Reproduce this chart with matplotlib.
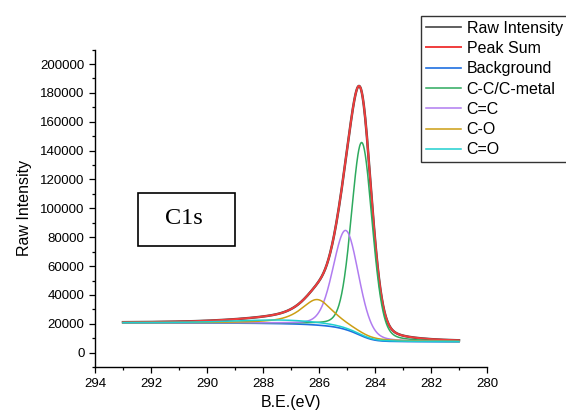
import numpy as np
import matplotlib
matplotlib.use("Agg")
import matplotlib.pyplot as plt
from matplotlib.patches import Rectangle
from matplotlib.ticker import MultipleLocator

plt.rcParams['font.family'] = ['Liberation Sans', 'DejaVu Sans']

# C1s fit components: centre (eV), height above background (counts), FWHM (eV), Lorentzian fraction
component_names = ["C-C/C-metal", "C=C", "C-O", "C=O"]
component_centers = [284.47, 285.04, 286.06, 287.3]
component_heights = [134000, 68700, 17700, 2500]
component_fwhm = [0.88, 1.07, 1.4, 4.0]
component_lorentz = [0.2, 0.2, 0.8, 0.5]
component_colors = ["#2eaa5e", "#b07cf0", "#cc9e14", "#1fcfcf"]

# Shirley background end levels (counts) at the low- and high-BE ends of the scan
bg_low_end = 7500
bg_high_end = 20700
scan_range = (281.0, 293.0)

x_ticks = [294, 292, 290, 288, 286, 284, 282, 280]
y_ticks = [0, 20000, 40000, 60000, 80000, 100000, 120000, 140000, 160000, 180000, 200000]


def pseudo_voigt(x, c, h, w, eta):
    g = np.exp(-4 * np.log(2) * ((x - c) / w) ** 2)
    l = 1.0 / (1.0 + 4 * ((x - c) / w) ** 2)
    return h * ((1 - eta) * g + eta * l)


be = np.linspace(scan_range[0], scan_range[1], 1201)
peaks = [pseudo_voigt(be, c, h, w, e) for c, h, w, e in
         zip(component_centers, component_heights, component_fwhm, component_lorentz)]
total = np.sum(peaks, axis=0)

# Shirley-type step: proportional to the peak area on the low-BE side of each point
cum = np.concatenate([[0], np.cumsum(0.5 * (total[1:] + total[:-1]) * np.diff(be))])
background = bg_low_end + (bg_high_end - bg_low_end) * cum / cum[-1]
peak_sum = background + total

fig = plt.figure(figsize=(5.66, 4.17), dpi=100)
ax = fig.add_axes([95 / 566, 1 - 367.1 / 417, 392 / 566, (367.1 - 49.6) / 417])

ax.plot(be, peak_sum, color="#444444", lw=1.8, label="Raw Intensity", zorder=2)
ax.plot(be, peak_sum, color="#f03c3c", lw=1.4, label="Peak Sum", zorder=3)
ax.plot(be, background, color="#1f6fe0", lw=1.2, label="Background", zorder=4)
for name, p, col in zip(component_names, peaks, component_colors):
    ax.plot(be, background + p, color=col, lw=1.1, label=name, zorder=4)

ax.set_xlim(294, 280)
ax.set_ylim(-10000, 210000)
ax.set_xticks(x_ticks)
ax.set_yticks(y_ticks)
ax.xaxis.set_minor_locator(MultipleLocator(1))
ax.yaxis.set_minor_locator(MultipleLocator(10000))
ax.tick_params(which='major', direction='out', length=4, width=0.9, labelsize=9.5, colors='black')
ax.tick_params(which='minor', direction='out', length=2.5, width=0.9)
for s in ['top', 'right']:
    ax.spines[s].set_visible(False)
for s in ['left', 'bottom']:
    ax.spines[s].set_linewidth(1.0)

ax.set_xlabel("B.E.(eV)", fontsize=11.5, labelpad=4)
ax.set_ylabel("Raw Intensity", fontsize=11.5, labelpad=6)

leg = fig.legend(loc='upper left', bbox_to_anchor=(421 / 566, 1 - 16 / 417),
                 bbox_transform=fig.transFigure, fontsize=11.5, frameon=True,
                 fancybox=False, edgecolor='black', handlelength=2.2,
                 handletextpad=0.35, labelspacing=0.33, borderpad=0.3,
                 borderaxespad=0)
leg.get_frame().set_linewidth(1.0)
leg.legend_handles[0].set_linewidth(1.2)

# sample label box
fig.patches.append(Rectangle((138 / 566, 1 - 246 / 417), 97 / 566, 53 / 417,
                             transform=fig.transFigure, fill=False,
                             edgecolor='black', lw=1.2))
fig.text(184 / 566, 1 - 219 / 417, "C1s", fontsize=17.5,
         family='Liberation Serif', ha='center', va='center')

fig.savefig("out.png", dpi=100)
